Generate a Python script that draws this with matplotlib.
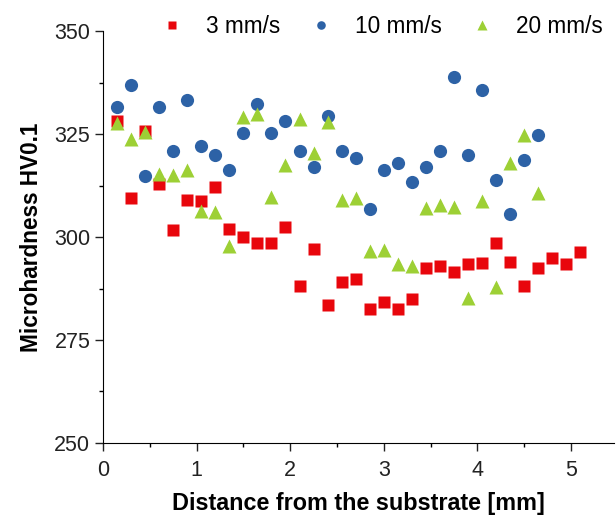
import matplotlib
matplotlib.use("Agg")
import matplotlib.pyplot as plt
from matplotlib.ticker import MultipleLocator

plt.rcParams["font.family"] = ["Liberation Sans", "DejaVu Sans"]

# distance from the substrate [mm]
x_3 = [0.15, 0.30, 0.45, 0.60, 0.75, 0.90, 1.05, 1.20, 1.35, 1.50, 1.65, 1.80,
       1.95, 2.10, 2.25, 2.40, 2.55, 2.70, 2.85, 3.00, 3.15, 3.30, 3.45, 3.60,
       3.75, 3.90, 4.05, 4.20, 4.35, 4.50, 4.65, 4.80, 4.95, 5.10]
hv_3 = [328.2, 309.6, 325.7, 313.0, 301.7, 309.1, 308.7, 312.2, 301.9, 300.0,
        298.5, 298.5, 302.4, 288.0, 297.2, 283.6, 289.2, 289.8, 282.6, 284.1,
        282.6, 285.0, 292.6, 293.0, 291.6, 293.4, 293.7, 298.5, 293.9, 288.0,
        292.4, 295.0, 293.4, 296.4]

x_10 = x_3[:31]
hv_10 = [331.5, 337.0, 314.9, 331.5, 321.0, 333.2, 322.1, 319.9, 316.2, 325.4,
         332.4, 325.3, 328.2, 321.0, 316.9, 329.5, 320.9, 319.3, 306.8, 316.3,
         318.1, 313.4, 316.9, 320.8, 338.8, 320.0, 335.8, 313.8, 305.6, 318.8,
         324.7]

x_20 = x_3[:31]
hv_20 = [327.6, 323.8, 325.5, 315.2, 315.0, 316.3, 306.4, 306.1, 297.8, 329.1,
         329.9, 309.8, 317.4, 328.8, 320.5, 328.0, 309.0, 309.4, 296.7, 296.9,
         293.4, 293.0, 307.0, 307.8, 307.3, 285.1, 308.7, 287.9, 318.0, 324.8,
         310.8]

labels = ["3 mm/s", "10 mm/s", "20 mm/s"]
colors = ["#E8060C", "#2D62A6", "#9DD035"]

fig = plt.figure(figsize=(6.16, 5.21), dpi=100)
ax = fig.add_axes([0.167, 0.15, 0.83, 0.79])

ax.plot(x_3, hv_3, "s", color=colors[0], ms=8, mec="none", label=labels[0])
ax.plot(x_10, hv_10, "o", color=colors[1], ms=9.5, mec="none", label=labels[1])
ax.plot(x_20, hv_20, "^", color=colors[2], ms=10, mec="none", label=labels[2])

ax.set_xlim(0, 5.46)
ax.set_ylim(250, 350)
ax.xaxis.set_major_locator(MultipleLocator(1))
ax.xaxis.set_minor_locator(MultipleLocator(0.5))
ax.yaxis.set_major_locator(MultipleLocator(25))
ax.yaxis.set_minor_locator(MultipleLocator(12.5))
ax.spines["top"].set_visible(False)
ax.spines["right"].set_visible(False)
ax.tick_params(which="major", direction="out", length=6, width=1, labelsize=15.5,
               colors="#222222", pad=3)
ax.tick_params(axis="x", which="major", pad=6)
ax.tick_params(which="minor", direction="out", length=3, width=1)
ax.set_xlabel("Distance from the substrate [mm]", fontsize=16.8, fontweight="bold", labelpad=8)
ax.set_ylabel("Microhardness HV0.1", fontsize=16.3, fontweight="bold", labelpad=8)

fig.legend(loc="upper center", bbox_to_anchor=(0.62, 1.01), ncol=3, frameon=False,
           fontsize=16.3, markerscale=0.65, handlelength=1.0, handletextpad=1.0,
           columnspacing=1.3)

fig.savefig("out.png", dpi=100)
